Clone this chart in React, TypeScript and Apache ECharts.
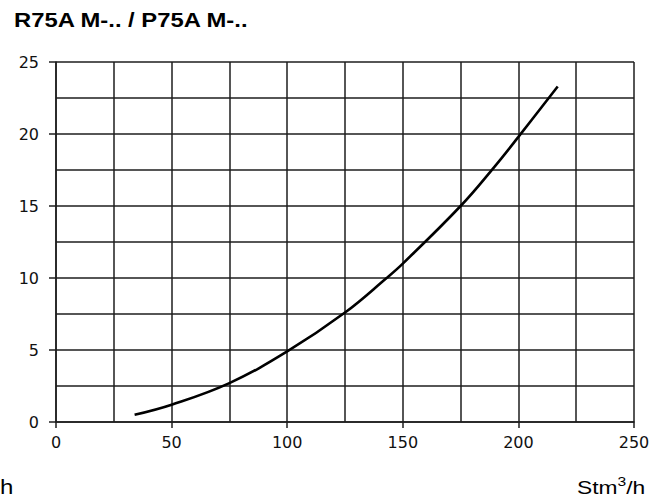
import React, { useEffect, useRef } from "react";
import * as echarts from "echarts";

const TITLE = "R75A M-.. / P75A M-..";
const X_UNIT = "/h";
const flowX = [34, 50, 75, 100, 125, 143, 150, 175, 189, 200, 217];
const dropY = [0.5, 1.2, 2.7, 4.9, 7.6, 10, 11.0, 15, 17.6, 19.8, 23.3];
const X_MIN = 0, X_MAX = 250, X_STEP = 50;
const Y_MIN = 0, Y_MAX = 25, Y_STEP = 5;

const LABEL_FONT = "DejaVu Sans";
const TEXT_FONT = "Liberation Sans";
const GRID_COLOR = "#1e1e1e";

export default function App() {
  const ref = useRef<HTMLDivElement>(null);
  useEffect(() => {
    if (!ref.current) return;
    const chart = echarts.init(ref.current, null, { renderer: "svg" });
    const points = flowX.map((x, i) => [x, dropY[i]]);
    const lineStyle = { color: GRID_COLOR, width: 1.5 };
    chart.setOption({
      animation: false,
      backgroundColor: "#fff",
      grid: { left: 56, right: 36, top: 62, bottom: 81, containLabel: false },
      graphic: [
        {
          type: "text",
          x: 14,
          y: 10,
          scaleX: 1.19,
          style: {
            text: TITLE,
            font: `bold 20px "${TEXT_FONT}"`,
            fill: "#000",
            align: "left",
            verticalAlign: "top",
          },
        },
        {
          type: "text",
          x: 0,
          y: 477,
          scaleX: 1.2,
          style: {
            text: "h",
            font: `20px "${TEXT_FONT}"`,
            fill: "#000",
            align: "left",
            verticalAlign: "top",
          },
        },
        {
          type: "text",
          x: 577,
          y: 475,
          scaleX: 1.2,
          style: {
            text: "{a|Stm}{s|3}{a|" + X_UNIT + "}",
            align: "left",
            verticalAlign: "top",
            rich: {
              a: { fontFamily: TEXT_FONT, fontSize: 19, fill: "#000", color: "#000", lineHeight: 22, verticalAlign: "bottom" },
              s: { fontFamily: TEXT_FONT, fontSize: 13, fill: "#000", color: "#000", lineHeight: 22, verticalAlign: "top" },
            },
          },
        },
      ],
      xAxis: {
        type: "value",
        min: X_MIN,
        max: X_MAX,
        interval: X_STEP,
        axisLine: { show: true, onZero: false, lineStyle },
        axisTick: { show: true, length: 6, lineStyle },
        axisLabel: { color: "#111", fontFamily: LABEL_FONT, fontSize: 16, margin: 12 },
        splitLine: { show: true, lineStyle },
        minorTick: { show: false, splitNumber: 2 },
        minorSplitLine: { show: true, lineStyle },
      },
      yAxis: {
        type: "value",
        min: Y_MIN,
        max: Y_MAX,
        interval: Y_STEP,
        axisLine: { show: true, onZero: false, lineStyle },
        axisTick: { show: true, length: 7, lineStyle },
        axisLabel: { color: "#111", fontFamily: LABEL_FONT, fontSize: 16, margin: 17 },
        splitLine: { show: true, lineStyle },
        minorTick: { show: false, splitNumber: 2 },
        minorSplitLine: { show: true, lineStyle },
      },
      series: [
        {
          type: "line",
          data: points,
          smooth: 0.4,
          symbol: "none",
          lineStyle: { color: "#000", width: 2.6 },
        },
      ],
    });
    return () => chart.dispose();
  }, []);
  return (
    <div
      ref={ref}
      style={{ position: "absolute", left: 0, top: 0, width: 670, height: 503, background: "#fff" }}
    />
  );
}
